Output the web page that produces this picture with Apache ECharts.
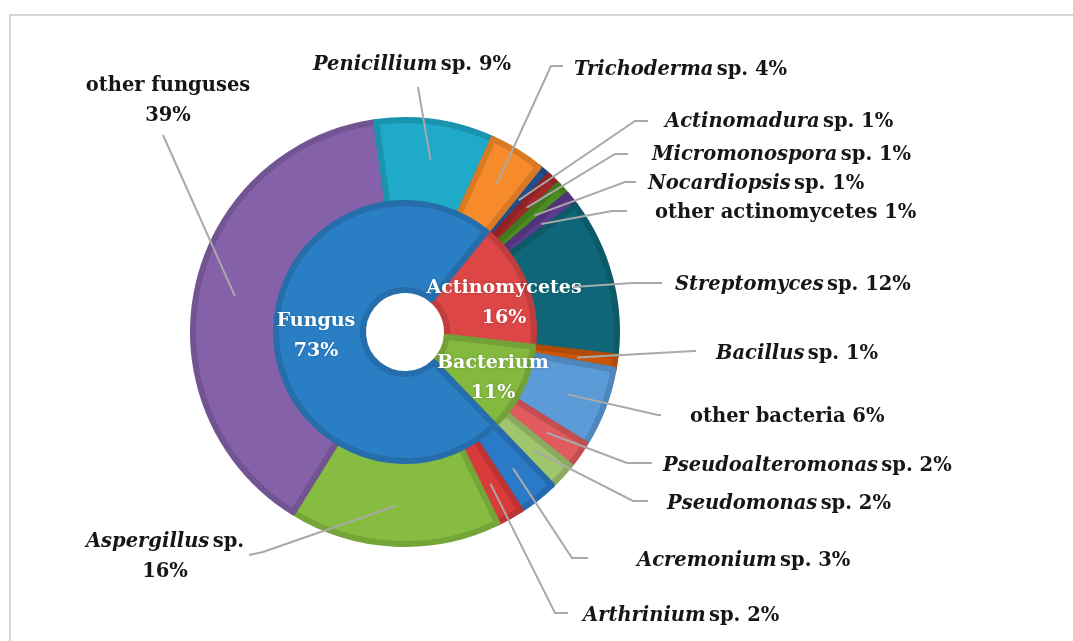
<!DOCTYPE html>
<html>
<head>
<meta charset="utf-8">
<script src="https://cdn.jsdelivr.net/npm/echarts@6/dist/echarts.min.js"></script>
<style>
  html, body { margin: 0; padding: 0; background: #ffffff; }
  #chart { width: 1073px; height: 641px; }
</style>
</head>
<body>
<div id="chart"></div>
<script>
// Inner ring: organism groups (percent of isolates)
const groupNames  = ['Actinomycetes', 'Bacterium', 'Fungus'];
const groupValues = [16, 11, 73];

// Outer ring: genera inside each group, in the same clockwise order
const taxonNames = [
  'Actinomadura sp.', 'Micromonospora sp.', 'Nocardiopsis sp.', 'other actinomycetes', 'Streptomyces sp.',
  'Bacillus sp.', 'other bacteria', 'Pseudoalteromonas sp.', 'Pseudomonas sp.',
  'Acremonium sp.', 'Arthrinium sp.', 'Aspergillus sp.', 'other funguses', 'Penicillium sp.', 'Trichoderma sp.'
];
const taxonValues = [1, 1, 1, 1, 12, 1, 6, 2, 2, 3, 2, 16, 39, 9, 4];

// Colours
const groupColors = ['#dc4646', '#84b93f', '#2a7fc4'];
const taxonColors = [
  '#1f4f90', '#a4282a', '#4b8d22', '#5d3b8d', '#0e6678',
  '#cc5608', '#5b9bd8', '#e05a5e', '#9fc56d',
  '#2a7ac8', '#d93b3b', '#86bc40', '#8461a9', '#1eaac8', '#f78b2b'
];

// Geometry of the two rings
const CENTER = [405, 332];
const INNER_RADIUS = [42, 129];
const OUTER_RADIUS = [127, 212];
const LEADER_RADIUS = 174;   // leader lines start in the middle of the outer ring

// Label placement for the outer ring: anchor, alignment, and the knee/end of the leader line
const outerLabelPos = [
  { x: 665, y: 122, align: 'left',   knee: [635, 121], end: [648, 121] },
  { x: 652, y: 155, align: 'left',   knee: [615, 154], end: [628, 154] },
  { x: 648, y: 184, align: 'left',   knee: [625, 182], end: [636, 182] },
  { x: 655, y: 213, align: 'left',   knee: [612, 211], end: [627, 211] },
  { x: 675, y: 285, align: 'left',   knee: [633, 283], end: [662, 283] },
  { x: 716, y: 354, align: 'left',   knee: [694, 351], end: [696, 351] },
  { x: 690, y: 417, align: 'left',   knee: [658, 415], end: [661, 415] },
  { x: 663, y: 466, align: 'left',   knee: [627, 463], end: [652, 463] },
  { x: 667, y: 504, align: 'left',   knee: [633, 501], end: [648, 501] },
  { x: 637, y: 561, align: 'left',   knee: [572, 558], end: [588, 558] },
  { x: 583, y: 616, align: 'left',   knee: [555, 613], end: [568, 613] },
  { x: 165, y: 557, align: 'center', knee: [263, 552], end: [249, 555] },
  { x: 168, y: 101, align: 'center', knee: [163, 135], end: [163, 135] },
  { x: 412, y: 65,  align: 'center', knee: [418, 87],  end: [418, 87] },
  { x: 574, y: 70,  align: 'left',   knee: [551, 66],  end: [563, 66] }
];
const twoLineLabels = ['Aspergillus sp.', 'other funguses'];

// Label placement for the inner ring
const innerLabelPos = [
  { x: 504, y: 303 },
  { x: 493, y: 378 },
  { x: 316, y: 336 }
];

function shade(hex, k) {
  const n = parseInt(hex.slice(1), 16);
  const r = Math.round(((n >> 16) & 255) * k);
  const g = Math.round(((n >> 8) & 255) * k);
  const b = Math.round((n & 255) * k);
  return 'rgb(' + r + ',' + g + ',' + b + ')';
}

const FONT = 'DejaVu Serif';
const textBase = { fontFamily: FONT, fontWeight: 'bold', fontSize: 19.5, color: '#161616', lineHeight: 30 };

function taxonLabel(params) {
  const name = params.name;
  const pct = params.value + '%';
  const twoLine = twoLineLabels.indexOf(name) >= 0;
  if (/ sp\.$/.test(name)) {
    const genus = name.replace(/ sp\.$/, '');
    return '{i|' + genus + '} {n|sp.' + (twoLine ? '}\n{n|' : ' ') + pct + '}';
  }
  return '{n|' + name + (twoLine ? '}\n{n|' : ' ') + pct + '}';
}

const frame = {
  id: 'frame',
  type: 'rect',
  shape: { x: 10, y: 15, width: 1090, height: 660 },
  style: { fill: 'none', stroke: '#d6d6d6', lineWidth: 2 },
  silent: true
};

const chart = echarts.init(document.getElementById('chart'), null, { renderer: 'canvas' });

chart.setOption({
  animation: false,
  backgroundColor: '#ffffff',
  graphic: [frame],
  series: [
    {
      name: 'group',
      type: 'pie',
      center: CENTER,
      radius: INNER_RADIUS,
      startAngle: 51,
      clockwise: true,
      avoidLabelOverlap: false,
      emphasis: { disabled: true },
      data: groupNames.map((n, i) => ({
        name: n,
        value: groupValues[i],
        itemStyle: { color: groupColors[i], borderColor: shade(groupColors[i], 0.87), borderWidth: 6 }
      })),
      label: {
        show: true,
        position: 'inside',
        formatter: '{b}\n{c}%',
        fontFamily: FONT,
        fontWeight: 'bold',
        fontSize: 19,
        lineHeight: 30,
        color: '#ffffff',
        textShadowColor: 'rgba(0,0,0,0.2)',
        textShadowBlur: 3
      },
      labelLine: { show: false },
      labelLayout: function (params) {
        const p = innerLabelPos[params.dataIndex];
        return { x: p.x, y: p.y, align: 'center', verticalAlign: 'middle' };
      },
      z: 4
    },
    {
      name: 'taxon',
      type: 'pie',
      center: CENTER,
      radius: OUTER_RADIUS,
      startAngle: 51,
      clockwise: true,
      avoidLabelOverlap: false,
      emphasis: { disabled: true },
      data: taxonNames.map((n, i) => ({
        name: n,
        value: taxonValues[i],
        itemStyle: { color: taxonColors[i], borderColor: shade(taxonColors[i], 0.87), borderWidth: 6 }
      })),
      label: {
        show: true,
        position: 'outside',
        formatter: taxonLabel,
        rich: {
          i: Object.assign({}, textBase, { fontStyle: 'italic' }),
          n: Object.assign({}, textBase)
        }
      },
      labelLine: { show: false },
      labelLayout: function (params) {
        const p = outerLabelPos[params.dataIndex];
        return { x: p.x, y: p.y, align: p.align, verticalAlign: 'middle' };
      },
      z: 2
    }
  ]
});

// Leader lines: from the middle of each outer slice (taken from the pie layout) to its label
const taxonData = chart.getModel().getSeriesByIndex(1).getData();
const leaders = outerLabelPos.map((p, i) => {
  const L = taxonData.getItemLayout(i);
  const mid = (L.startAngle + L.endAngle) / 2;
  const start = [L.cx + LEADER_RADIUS * Math.cos(mid), L.cy + LEADER_RADIUS * Math.sin(mid)];
  return {
    id: 'leader' + i,
    type: 'polyline',
    z: 20,
    silent: true,
    shape: { points: [start, p.knee, p.end] },
    style: { fill: null, stroke: '#a9a9a9', lineWidth: 2 }
  };
});
chart.setOption({ graphic: [frame].concat(leaders) });
</script>
</body>
</html>
